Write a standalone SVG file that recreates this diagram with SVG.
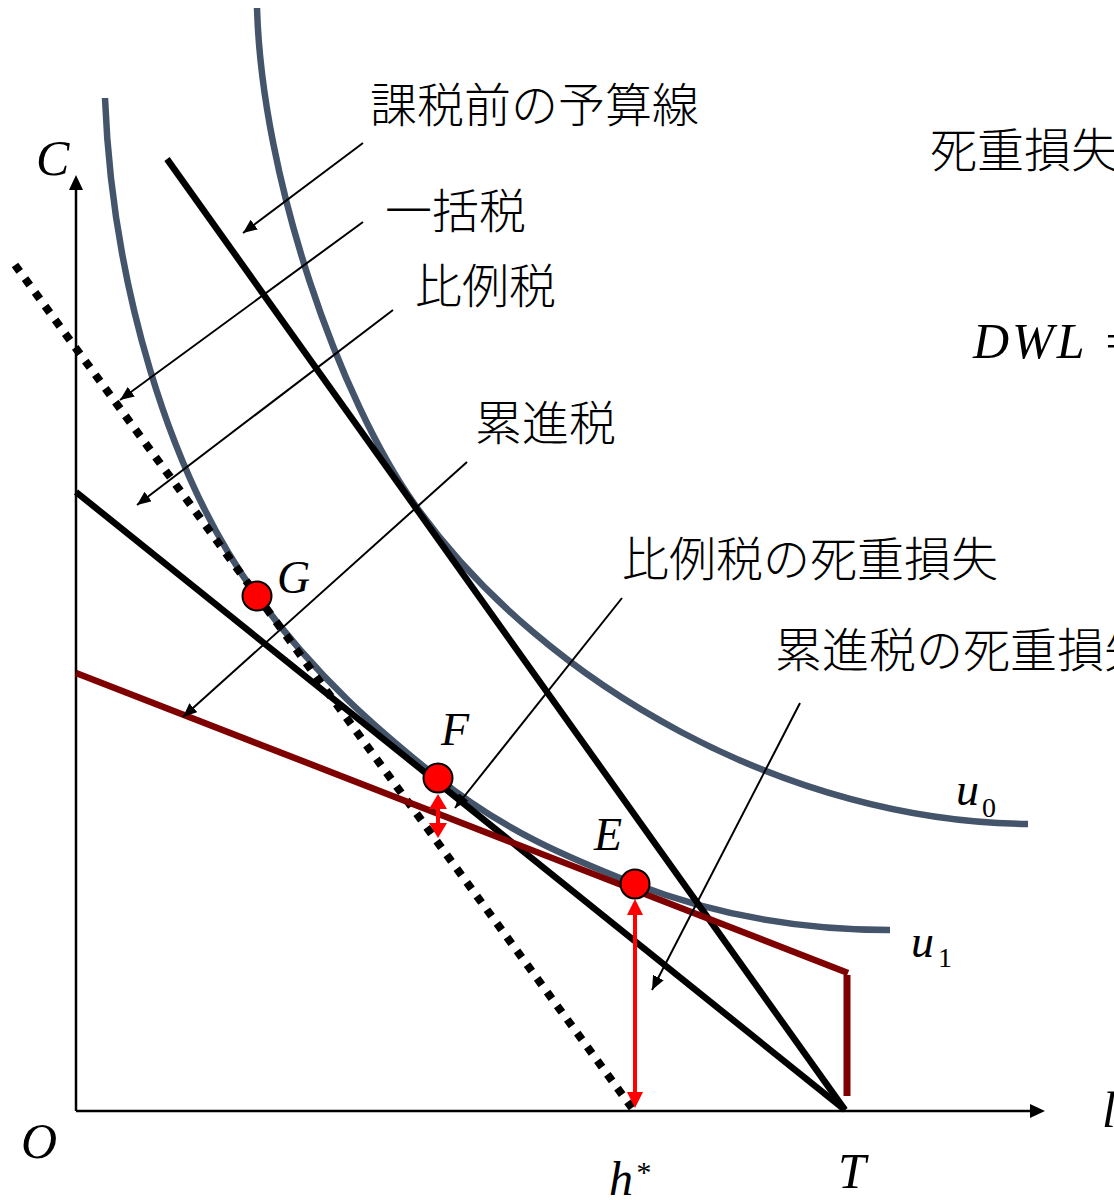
<svg xmlns="http://www.w3.org/2000/svg" width="1114" height="1200" viewBox="0 0 1114 1200">
<defs>
<style>
.jp{font-family:"Noto Sans CJK JP","Noto Sans",sans-serif;font-size:47px;font-weight:300;fill:#000}
.m{font-family:"Liberation Serif","Times New Roman",serif;font-style:italic;fill:#000}
.sub{font-family:"Liberation Serif","Times New Roman",serif;font-style:normal;fill:#000}
.ax{stroke:#000;stroke-width:2.5;fill:none}
.bl{stroke:#000;stroke-width:6.5;fill:none}
.u{stroke:#44546a;stroke-width:6.5;fill:none}
.ann{stroke:#000;stroke-width:2;fill:none;marker-end:url(#ah)}
.pt{fill:#ff0000;stroke:#000;stroke-width:2}
.rl{stroke:#ff0000;stroke-width:4}
</style>
<marker id="ah" markerUnits="userSpaceOnUse" markerWidth="16" markerHeight="14" refX="14" refY="6" orient="auto">
<path d="M0,0 L14,6 L0,12 Z" fill="#000"/>
</marker>
</defs>
<rect width="1114" height="1200" fill="#fff"/>

<g id="axes">
<line class="ax" x1="76" y1="1111" x2="76" y2="188"/>
<polygon points="76,175 69,190 83,190" fill="#000"/>
<line class="ax" x1="76" y1="1111" x2="1032" y2="1111"/>
<polygon points="1045,1111 1030,1104 1030,1118" fill="#000"/>
</g>

<g id="curves">
<path id="u0" class="u" d="M257,8 C262,180 340,400 415,505 C545,687 790,822 1028,824"/>
<path id="u1" class="u" d="M105,98 C112,280 167,473 257,596 C317,678 378,730 438,778 C504,831 569,858 635,884 C720,917 805,930 890,930"/>
</g>

<g id="budget-lines">
<line id="pretax" class="bl" x1="167" y1="159" x2="845" y2="1110"/>
<line id="proportional" class="bl" x1="76" y1="492" x2="845" y2="1110"/>
<line id="lumpsum" x1="15" y1="265" x2="632" y2="1108" stroke="#000" stroke-width="8" stroke-dasharray="8 9"/>
<polyline id="progressive" points="76,673 848,973" stroke="#7f0000" stroke-width="6.5" fill="none"/>
<line x1="847" y1="975" x2="847" y2="1096" stroke="#7f0000" stroke-width="7"/>
</g>

<g id="connectors">
<line class="ann" x1="363" y1="143" x2="243" y2="233"/>
<line class="ann" x1="363" y1="222" x2="120" y2="400"/>
<line class="ann" x1="393" y1="310" x2="137" y2="505"/>
<line class="ann" x1="467" y1="462" x2="183" y2="717"/>
<line class="ann" x1="622" y1="598" x2="455" y2="808"/>
<line class="ann" x1="800" y1="703" x2="652" y2="990"/>
</g>

<g id="dwl-arrows">
<line class="rl" x1="438" y1="806" x2="438" y2="826"/>
<polygon points="438,794 429,809 447,809" fill="#ff0000"/>
<polygon points="438,838 429,823 447,823" fill="#ff0000"/>
<line class="rl" x1="635" y1="912" x2="635" y2="1096"/>
<polygon points="635,899 627,915 643,915" fill="#ff0000"/>
<polygon points="635,1108 627,1092 643,1092" fill="#ff0000"/>
</g>

<g id="point-G"><circle class="pt" cx="257" cy="596" r="14.5"/><text class="m" x="277" y="593" font-size="46">G</text></g>
<g id="point-F"><circle class="pt" cx="438" cy="778" r="14.5"/><text class="m" x="441" y="745" font-size="46">F</text></g>
<g id="point-E"><circle class="pt" cx="635" cy="884" r="14.5"/><text class="m" x="594" y="850" font-size="46">E</text></g>

<g id="labels">
<text class="m" x="36" y="175" font-size="50">C</text>
<text class="m" x="21" y="1158" font-size="50">O</text>
<text class="m" x="838" y="1188" font-size="50">T</text>
<text class="m" x="609" y="1195" font-size="48">h</text>
<text class="m" x="635" y="1182" font-size="30">*</text>
<text class="m" x="1102" y="1127" font-size="50">l</text>
<text class="m" x="956" y="805" font-size="46">u</text>
<text class="sub" x="982" y="817" font-size="28">0</text>
<text class="m" x="911" y="957" font-size="46">u</text>
<text class="sub" x="938" y="967" font-size="28">1</text>
<text class="m" x="973" y="358" font-size="50" letter-spacing="3">DWL =</text>
</g>

<g id="texts">
<text class="jp" x="370" y="122" font-size="48">課税前の予算線</text>
<text class="jp" x="385" y="228">一括税</text>
<text class="jp" x="415" y="303">比例税</text>
<text class="jp" x="475" y="440">累進税</text>
<text class="jp" x="622" y="576" font-size="48">比例税の死重損失</text>
<text class="jp" x="775" y="667" font-size="48">累進税の死重損失</text>
<text class="jp" x="930" y="167">死重損失</text>
</g>
</svg>
